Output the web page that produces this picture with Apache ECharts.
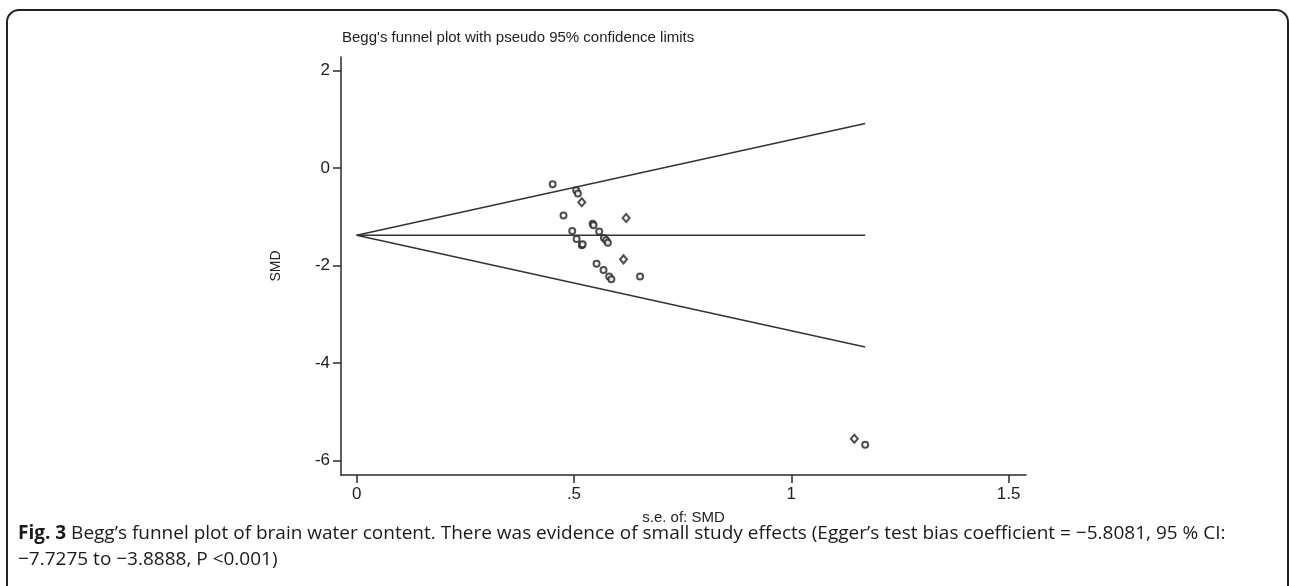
<!DOCTYPE html>
<html>
<head>
<meta charset="utf-8">
<script src="https://cdn.jsdelivr.net/npm/echarts@6/dist/echarts.min.js"></script>
<style>
  html, body { margin: 0; padding: 0; background: #fff; }
  #chart { width: 1290px; height: 586px; }
</style>
</head>
<body>
<div id="chart"></div>
<script>
// ---- data ----
const chartTitle = "Begg's funnel plot with pseudo 95% confidence limits";
const xAxisTitle = "s.e. of: SMD";
const yAxisTitle = "SMD";
const xTickValues = [0, 0.5, 1, 1.5];
const xTickLabels = ["0", ".5", "1", "1.5"];
const yTickValues = [-6, -4, -2, 0, 2];
const yTickLabels = ["-6", "-4", "-2", "0", "2"];

// studies drawn as hollow circles
const circleSE  = [0.451, 0.505, 0.509, 0.476, 0.543, 0.545, 0.558, 0.496, 0.506, 0.518, 0.520, 0.569, 0.574, 0.578, 0.552, 0.568, 0.581, 0.586, 0.652, 1.170];
const circleSMD = [-0.33, -0.45, -0.52, -0.97, -1.14, -1.17, -1.30, -1.29, -1.45, -1.58, -1.56, -1.43, -1.48, -1.53, -1.96, -2.09, -2.22, -2.28, -2.22, -5.67];
// studies that render as small diamonds
const diamondSE  = [0.518, 0.620, 0.614, 1.145];
const diamondSMD = [-0.70, -1.02, -1.87, -5.55];

// pooled estimate line and pseudo 95% limits (end points)
const pooledLine = [[0, -1.376], [1.17, -1.376]];
const upperLimit = [[0, -1.376], [1.17, 0.917]];
const lowerLimit = [[0, -1.376], [1.17, -3.669]];

const captionBold = "Fig. 3";
const captionLine1 = " Begg\u2019s funnel plot of brain water content. There was evidence of small study effects (Egger\u2019s test bias coefficient = \u22125.8081, 95 % CI:";
const captionLine2 = "\u22127.7275 to \u22123.8888, P <0.001)";

// ---- chart ----
const pair = (xs, ys) => xs.map((x, i) => [x, ys[i]]);
const chart = echarts.init(document.getElementById('chart'), null, { renderer: 'canvas' });
const axisColor = '#2b2b2b';
const labelFont = { fontFamily: 'Liberation Sans, Arial, sans-serif', fontSize: 17, color: '#222' };

chart.setOption({
  animation: false,
  backgroundColor: '#fff',
  title: {
    text: chartTitle,
    left: 342, top: 30, padding: 0,
    textStyle: { fontFamily: 'Liberation Sans, Arial, sans-serif', fontSize: 15, fontWeight: 'normal', color: '#222' }
  },
  grid: { left: 341, top: 57, width: 685, height: 418, containLabel: false },
  xAxis: {
    type: 'value', min: -0.036, max: 1.54,
    name: xAxisTitle, nameLocation: 'middle', nameGap: 35,
    nameTextStyle: { fontFamily: 'Liberation Sans, Arial, sans-serif', fontSize: 15, color: '#222' },
    axisLine: { show: true, onZero: false, lineStyle: { color: axisColor, width: 1.5 } },
    axisTick: { show: true, length: 8, customValues: xTickValues, lineStyle: { color: axisColor, width: 1.5 } },
    axisLabel: Object.assign({ margin: 11, customValues: xTickValues,
      formatter: v => xTickLabels[xTickValues.findIndex(t => Math.abs(t - v) < 1e-9)] }, labelFont),
    splitLine: { show: false }
  },
  yAxis: {
    type: 'value', min: -6.293, max: 2.281,
    name: yAxisTitle, nameLocation: 'middle', nameGap: 58, nameRotate: 90,
    nameTextStyle: { fontFamily: 'Liberation Sans, Arial, sans-serif', fontSize: 14, color: '#222' },
    axisLine: { show: true, onZero: false, lineStyle: { color: axisColor, width: 1.5 } },
    axisTick: { show: true, length: 8, customValues: yTickValues, lineStyle: { color: axisColor, width: 1.5 } },
    axisLabel: Object.assign({ margin: 11, customValues: yTickValues,
      formatter: v => yTickLabels[yTickValues.findIndex(t => Math.abs(t - v) < 1e-9)] }, labelFont),
    splitLine: { show: false }
  },
  series: [
    { type: 'line', data: pooledLine, symbol: 'none', silent: true, lineStyle: { color: '#333', width: 1.5 } },
    { type: 'line', data: upperLimit, symbol: 'none', silent: true, lineStyle: { color: '#333', width: 1.5 } },
    { type: 'line', data: lowerLimit, symbol: 'none', silent: true, lineStyle: { color: '#333', width: 1.5 } },
    { type: 'scatter', data: pair(circleSE, circleSMD), symbol: 'emptyCircle', symbolSize: 6,
      itemStyle: { color: '#222', borderColor: '#222', borderWidth: 1.2 } },
    { type: 'scatter', data: pair(diamondSE, diamondSMD), symbol: 'emptyDiamond', symbolSize: [7, 8],
      itemStyle: { color: '#222', borderColor: '#222', borderWidth: 1.2 } }
  ],
  graphic: [
    { type: 'rect', shape: { x: 7, y: 10, width: 1281, height: 640, r: 12 },
      style: { fill: 'none', stroke: '#222', lineWidth: 2 }, silent: true },
    { type: 'text', left: 18, top: 524,
      style: {
        text: '{b|' + captionBold + '}{n|' + captionLine1 + '}\n{n|' + captionLine2 + '}',
        rich: {
          b: { fontFamily: 'Open Sans, sans-serif', fontSize: 19, fontWeight: 'bold', fill: '#1a1a1a', lineHeight: 26 },
          n: { fontFamily: 'Open Sans, sans-serif', fontSize: 19, fill: '#1a1a1a', lineHeight: 26 }
        }
      } }
  ]
});
</script>
</body>
</html>
